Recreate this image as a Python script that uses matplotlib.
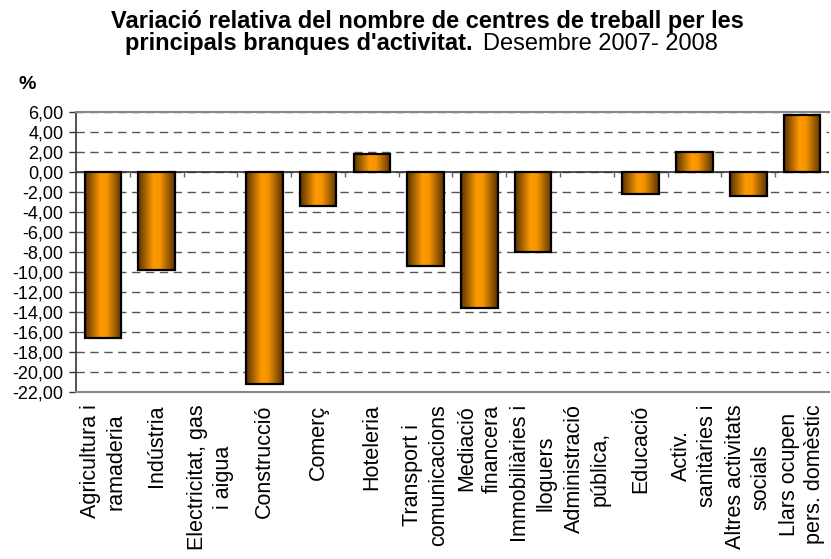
import numpy as np
import matplotlib
matplotlib.use("Agg")
import matplotlib.pyplot as plt
from matplotlib.colors import LinearSegmentedColormap
from matplotlib.ticker import FuncFormatter, MultipleLocator

plt.rcParams['font.family'] = ['Liberation Sans', 'DejaVu Sans']

# dades llegides del gràfic
categories = [
    "Agricultura i\nramaderia",
    "Indústria",
    "Electricitat, gas\ni aigua",
    "Construcció",
    "Comerç",
    "Hoteleria",
    "Transport i\ncomunicacions",
    "Mediació\nfinancera",
    "Immobiliàries i\nlloguers",
    "Administració\npública,",
    "Educació",
    "Activ.\nsanitàries i",
    "Altres activitats\nsocials",
    "Llars ocupen\npers. domèstic",
]
variacio = [-16.6, -9.8, 0.0, -21.2, -3.4, 1.8, -9.4, -13.6, -8.0, 0.0, -2.2, 2.0, -2.4, 5.7]

y_min, y_max, y_step = -22, 6, 2

fig = plt.figure(figsize=(8.31, 5.59), dpi=100)
ax = fig.add_axes([0.0915, 0.2987, 0.906, 0.501])

# degradat tipus "cilindre" d'Excel
cmap = LinearSegmentedColormap.from_list(
    "taronja", [(0.0, "#5c3300"), (0.42, "#ff9a00"), (0.6, "#f59400"), (1.0, "#5c3300")])
grad = np.linspace(0, 1, 64).reshape(1, -1)

x = np.arange(len(categories))
w = 0.68
for xi, v in zip(x, variacio):
    if v == 0:
        continue
    ax.imshow(grad, cmap=cmap, aspect="auto", interpolation="bilinear",
              extent=(xi - w / 2, xi + w / 2, min(0, v), max(0, v)), zorder=3)
    ax.bar(xi, v, width=w, facecolor="none", edgecolor="black", linewidth=1.6, zorder=4)

ax.set_xlim(-0.5, len(categories) - 0.5)
ax.set_ylim(y_min, y_max)

# graella
ax.yaxis.set_major_locator(MultipleLocator(y_step))
ax.yaxis.set_major_formatter(FuncFormatter(lambda v, p: f"{v:.2f}".replace(".", ",")))
ax.grid(axis="y", color="#555555", linestyle=(0, (6, 4)), linewidth=1.0, zorder=1)
ax.axhline(0, color="#333333", linewidth=1.2, zorder=2)
ax.vlines(np.arange(0.5, len(categories) - 0.5), -0.5, 0, color="#666666", linewidth=1.0, zorder=2)

for s in ["top", "bottom"]:
    ax.spines[s].set_color("#888888")
    ax.spines[s].set_linewidth(1.5)
ax.spines["right"].set_visible(False)
ax.spines["left"].set_color("#333333")
ax.spines["left"].set_linewidth(1.2)

ax.tick_params(axis="y", direction="out", length=5, width=1, color="#333333", labelsize=13, pad=4)
ax.set_xticks(x)
ax.set_xticklabels(categories, rotation=90, ha="center", va="top",
                   multialignment="center", linespacing=1.3, fontsize=15.5)
ax.tick_params(axis="x", length=0, pad=9)

# títol
fig.text(0.514, 0.950, "Variació relativa del nombre de centres de treball per les",
         ha="center", va="baseline", fontsize=17, fontweight="bold")
fig.text(0.569, 0.9106, "principals branques d'activitat.",
         ha="right", va="baseline", fontsize=17, fontweight="bold")
fig.text(0.581, 0.9106, "Desembre 2007- 2008",
         ha="left", va="baseline", fontsize=17)
fig.text(0.022, 0.841, "%", ha="left", va="baseline", fontsize=14, fontweight="bold")

fig.savefig("out.png", dpi=100)
